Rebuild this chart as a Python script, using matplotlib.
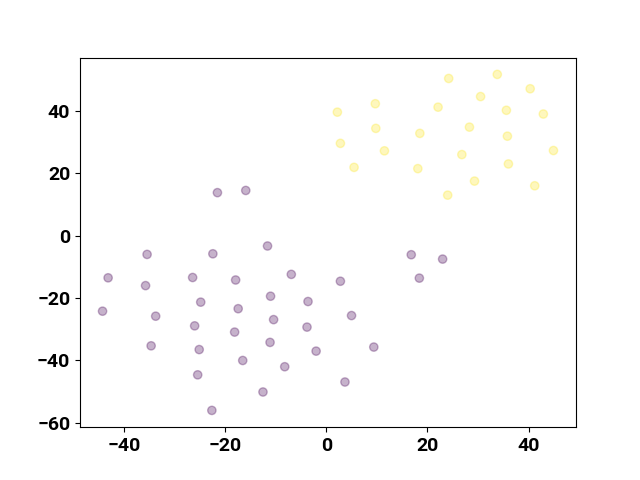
import matplotlib
matplotlib.use("Agg")
import numpy as np
import matplotlib.pyplot as plt

# cluster 0 (purple)
x0 = [-35.4, -22.4, -11.6, -43.1, -35.7, -26.4, -17.9, -6.9, -11.0, -3.6,
      -44.2, -33.7, -24.8, -17.4, -10.4, -26.0, -18.1, -3.8, -11.1, -2.0,
      -34.6, -25.1, -16.5, -8.2, -25.4, -12.5, -22.6, -21.5, -15.9,
      16.8, 23.0, 18.4, 2.8, 5.0, 9.4, 3.7]
y0 = [-6.0, -5.8, -3.3, -13.5, -16.0, -13.4, -14.2, -12.4, -19.4, -21.1,
      -24.2, -25.8, -21.3, -23.4, -26.9, -28.9, -30.9, -29.3, -34.2, -37.0,
      -35.3, -36.5, -40.0, -42.0, -44.6, -50.1, -56.0, 13.8, 14.5,
      -6.1, -7.5, -13.6, -14.6, -25.6, -35.7, -46.9]

# cluster 1 (yellow)
x1 = [24.2, 33.8, 40.3, 30.5, 9.7, 2.2, 22.1, 35.6, 42.9, 9.8, 18.5, 28.3,
      35.8, 2.8, 11.5, 26.8, 44.9, 5.5, 18.1, 36.0, 29.3, 41.2, 24.0]
y1 = [50.4, 51.7, 47.1, 44.6, 42.3, 39.6, 41.2, 40.2, 39.0, 34.4, 32.8, 34.8,
      31.9, 29.6, 27.2, 26.0, 27.3, 21.9, 21.5, 23.0, 17.5, 16.0, 13.0]

xs = np.array(x0 + x1)
ys = np.array(y0 + y1)
labels = np.array([0] * len(x0) + [1] * len(x1))

plt.rcParams["font.family"] = ["Roboto", "DejaVu Sans"]
plt.rcParams["font.weight"] = "bold"

fig, ax = plt.subplots(figsize=(6.4, 4.8), dpi=100)
ax.scatter(xs, ys, c=labels, cmap="viridis", alpha=0.3)
ax.tick_params(labelsize=14)
for lab in ax.get_xticklabels() + ax.get_yticklabels():
    lab.set_fontweight("bold")

fig.savefig("out.png", dpi=100)
